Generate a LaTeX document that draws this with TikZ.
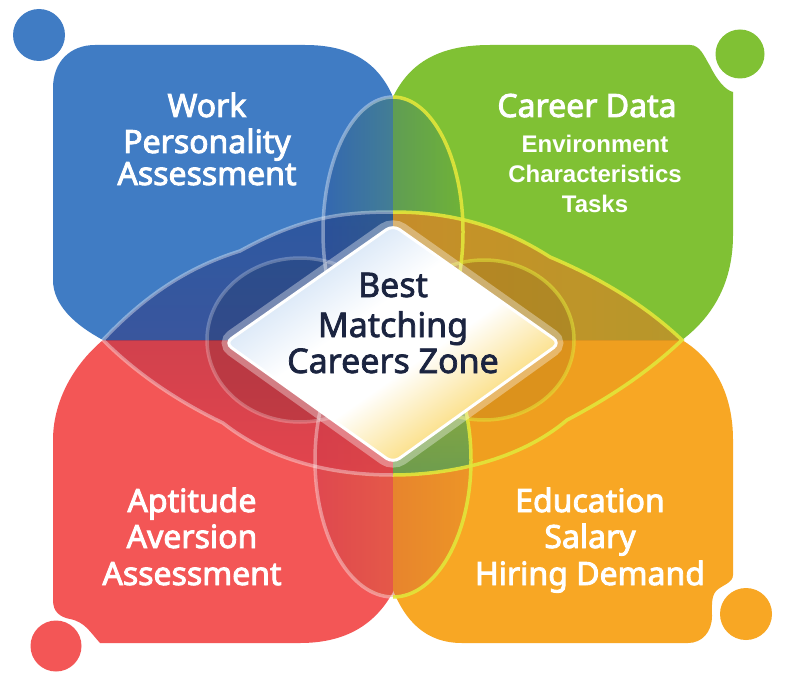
\documentclass[tikz,border=0pt]{standalone}
\usepackage{fontspec}
\setmainfont{Noto Sans}
\newfontfamily\medfont{Noto Sans}
\newfontfamily\subfont{Liberation Sans}
\newcommand\heavytext[2]{\special{pdf:literal direct 2 Tr #1 w}#2\special{pdf:literal direct 0 Tr}}
\definecolor{qblue}{HTML}{407CC4}
\definecolor{qgreen}{HTML}{80C134}
\definecolor{qred}{HTML}{F35656}
\definecolor{qorange}{HTML}{F8A724}
\definecolor{navy}{HTML}{1B2440}
\definecolor{lineyel}{HTML}{E2E63A}
\definecolor{ltopA}{HTML}{23448C}
\definecolor{ltopB}{HTML}{4B3A80}
\definecolor{lbotA}{HTML}{A02E48}
\definecolor{lbotB}{HTML}{D83A48}
\definecolor{rtopA}{HTML}{F08420}
\definecolor{rtopB}{HTML}{C0902A}
\definecolor{rbot}{HTML}{E89A1C}
\definecolor{tLobeL}{HTML}{2A58A2}
\definecolor{tLobeR}{HTML}{62A83A}
\definecolor{bLobeL}{HTML}{C83848}
\definecolor{bLobeR}{HTML}{E0802A}
\definecolor{bRA}{HTML}{8FB838}
\definecolor{bRB}{HTML}{2E8A6E}
\definecolor{diaA}{HTML}{C6DBF3}
\definecolor{diaB}{HTML}{FBE08A}
\definecolor{diaC}{HTML}{F6B040}
\pgfdeclarehorizontalshading{diashade}{100bp}{color(0bp)=(diaA); color(25bp)=(diaA); color(43bp)=(white); color(55bp)=(white); color(68bp)=(diaB); color(75bp)=(diaC); color(100bp)=(diaC)}
\tikzset{
  lab/.style={text=white, font=\medfont\fontsize{32}{36}\selectfont, inner sep=0pt, anchor=base},
  sublab/.style={text=white, font=\subfont\bfseries\fontsize{24}{26}\selectfont, inner sep=0pt, anchor=base},
  ctr/.style={text=navy, font=\medfont\fontsize{34}{40}\selectfont, inner sep=0pt, anchor=base},
  softline/.style={draw=white, draw opacity=0.38, line width=3.5pt},
  yelline/.style={draw=lineyel, draw opacity=0.9, line width=3.5pt},
}
\def\cloudpath{(103,340) .. controls (150,290) and (195,265) .. (240,251)
  .. controls (300,218) and (340,212) .. (393,212)
  .. controls (450,212) and (500,225) .. (550,257)
  .. controls (600,278) and (645,305) .. (682,340)
  .. controls (645,375) and (605,400) .. (567,420)
  .. controls (520,460) and (450,475) .. (393,475)
  .. controls (330,475) and (270,460) .. (223,423)
  .. controls (175,400) and (135,372) .. (103,340) -- cycle}
\def\toppath{(393,232) ellipse [x radius=70pt, y radius=135pt]}
\def\botpath{(393,460) ellipse [x radius=78pt, y radius=137pt]}
\def\lringpath{(300,340) ellipse [x radius=93pt, y radius=82pt]}
\def\rringpath{(484,340) ellipse [x radius=90pt, y radius=80pt]}
\def\diapath{(393,225) -- (560,343) -- (393,463) -- (225,343) -- cycle}
\begin{document}
\begin{tikzpicture}[x=1pt,y=-1pt]
\useasboundingbox (0,0) rectangle (800,698);
\fill[white] (0,0) rectangle (800,698);
% corner dots
\fill[qblue] (39,35) circle [radius=26pt];
\fill[qgreen] (740,54) circle [radius=24.5pt];
\fill[qred] (56,646) circle [radius=25.5pt];
\fill[qorange] (746,614) circle [radius=26pt];
% quadrants
\fill[qblue] (393,97) .. controls (378,62) and (350,45) .. (305,45) -- (95,45)
  .. controls (70,45) and (53,62) .. (53,88) -- (53,280)
  .. controls (53,305) and (75,325) .. (103,340) -- (393,340) -- cycle;
\fill[qgreen] (393,97) .. controls (410,62) and (440,45) .. (490,45) -- (690,45)
  .. controls (700,45) and (704,56) .. (710,66) .. controls (717,80) and (725,90) .. (733,92)
  -- (733,235) .. controls (733,280) and (715,315) .. (682,340) -- (393,340) -- cycle;
\fill[qred] (53,440) .. controls (53,405) and (70,368) .. (103,340) -- (393,340) -- (393,592)
  .. controls (375,625) and (345,643) .. (300,643) -- (100,643)
  .. controls (90,632) and (85,622) .. (70,619) .. controls (60,617) and (53,612) .. (53,600) -- cycle;
\fill[qorange] (393,340) -- (682,340) .. controls (715,360) and (733,395) .. (733,440) -- (733,575)
  .. controls (733,583) and (722,585) .. (716,591) .. controls (711,597) and (712,606) .. (712,616)
  .. controls (712,632) and (702,643) .. (688,643) -- (462,643)
  .. controls (425,643) and (405,620) .. (393,590) -- cycle;
% top and bottom lobes
\shade[left color=tLobeL, right color=tLobeR, opacity=0.55] \toppath;
\shade[left color=bLobeL, right color=bLobeR, opacity=0.45] \botpath;
% cloud lens fills
\begin{scope}
  \clip (0,0) rectangle (393,340);
  \shade[top color=ltopA, bottom color=ltopB, opacity=0.62] \cloudpath;
\end{scope}
\begin{scope}
  \clip (0,340) rectangle (393,698);
  \shade[top color=lbotA, bottom color=lbotB, opacity=0.6] \cloudpath;
\end{scope}
\begin{scope}
  \clip (393,0) rectangle (800,340);
  \shade[left color=rtopA, right color=rtopB, opacity=0.85] \cloudpath;
\end{scope}
\begin{scope}
  \clip (393,340) rectangle (800,698);
  \fill[rbot, opacity=0.55] \cloudpath;
\end{scope}
\begin{scope}
  \clip \cloudpath;
  \clip (393,340) rectangle (800,698);
  \shade[top color=bRA, bottom color=bRB, opacity=0.85] \botpath;
\end{scope}
% rings
\fill[black, opacity=0.12] \lringpath;
\fill[black, opacity=0.08] \rringpath;
% outlines
\begin{scope}
  \clip (0,0) rectangle (393,698);
  \path[softline] \cloudpath;
  \path[softline] \toppath;
  \path[softline] \botpath;
  \path[softline, draw opacity=0.25] \lringpath;
\end{scope}
\begin{scope}
  \clip (393,0) rectangle (800,698);
  \path[yelline] \cloudpath;
  \path[yelline] \toppath;
  \path[yelline] \botpath;
  \path[yelline, draw opacity=0.55] \rringpath;
\end{scope}
% diamond
\path[draw=white, draw opacity=0.35, line width=16pt, rounded corners=10pt] \diapath;
\shade[rounded corners=8pt, shading=diashade, shading angle=-55] \diapath;
\draw[white, line width=3pt, rounded corners=8pt] \diapath;
% labels
\node[lab] (w1) at (207,117) {\heavytext{0.9}{Work}};
\node[lab] (w2) at (207,153) {\heavytext{0.9}{Personality}};
\node[lab] (w3) at (207,185) {\heavytext{0.9}{Assessment}};
\node[lab] (c1) at (587,117) {\heavytext{0.9}{Career Data}};
\node[sublab] (c2) at (595,152) {Environment};
\node[sublab] (c3) at (595,182) {Characteristics};
\node[sublab] (c4) at (595,212) {Tasks};
\node[lab] (a1) at (192,512) {\heavytext{0.9}{Aptitude}};
\node[lab] (a2) at (192,548) {\heavytext{0.9}{Aversion}};
\node[lab] (a3) at (192,585) {\heavytext{0.9}{Assessment}};
\node[lab] (e1) at (590,512) {\heavytext{0.9}{Education}};
\node[lab] (e2) at (590,548) {\heavytext{0.9}{Salary}};
\node[lab] (e3) at (590,585) {\heavytext{0.9}{Hiring Demand}};
\node[ctr] (b1) at (393,297) {\heavytext{0.7}{Best}};
\node[ctr] (b2) at (393,337) {\heavytext{0.7}{Matching}};
\node[ctr] (b3) at (393,373) {\heavytext{0.7}{Careers Zone}};
\end{tikzpicture}
\end{document}
